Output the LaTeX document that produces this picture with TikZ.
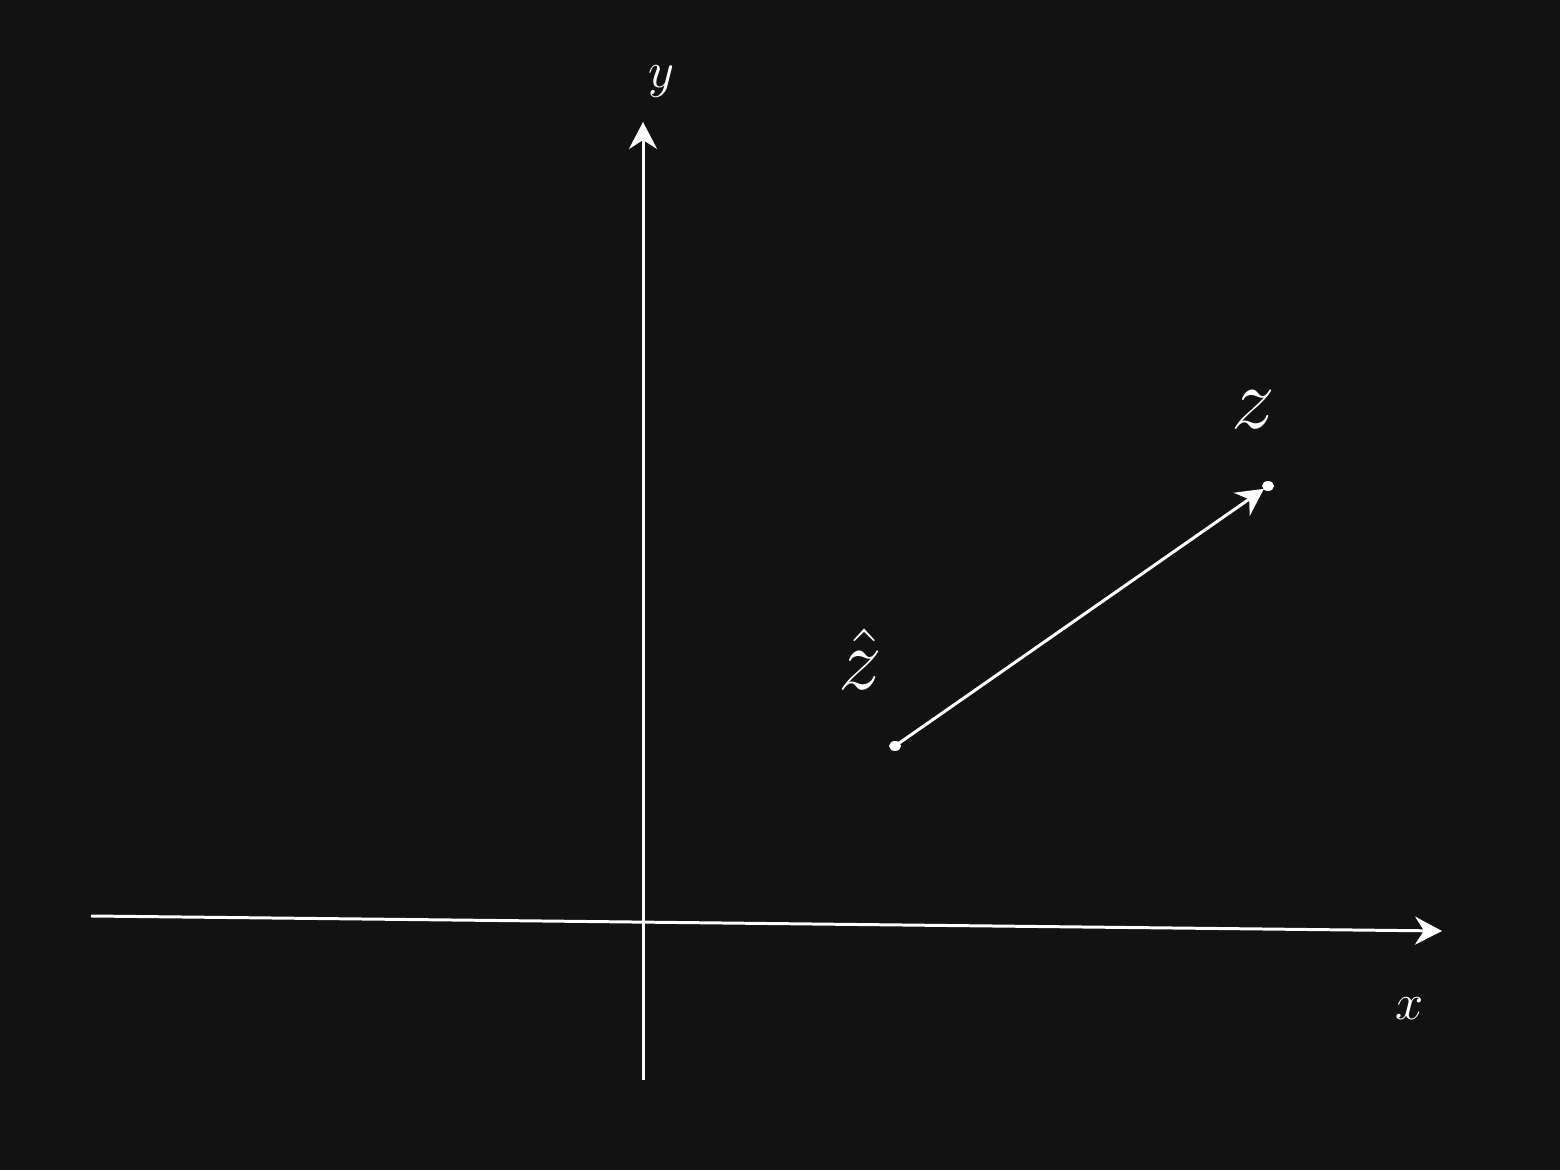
\documentclass[tikz,border=0pt]{standalone}
\usetikzlibrary{arrows.meta}
\begin{document}
\begin{tikzpicture}

    % colours
    \definecolor{bg}{RGB}{18, 18, 18}
    \definecolor{ink}{RGB}{255, 255, 255}

    % background
    \fill[bg] (0.0, 0.0) rectangle (15.6, 11.7);

    % axes end points
    \coordinate (xl) at (0.91, 2.54);
    \coordinate (xr) at (14.42, 2.39);
    \coordinate (yb) at (6.43, 0.90);
    \coordinate (yt) at (6.43, 10.48);

    % axes
    \draw[ink, line width=0.85pt, -{Stealth[length=2.7mm, width=2.8mm, inset=0.9mm]}] (xl) -- (xr);
    \draw[ink, line width=0.85pt, -{Stealth[length=2.7mm, width=2.8mm, inset=0.9mm]}] (yb) -- (yt);

    % points
    \coordinate (zhat) at (8.95, 4.24);
    \coordinate (z) at (12.68, 6.84);
    \fill[ink] (zhat) ellipse (0.06 and 0.05);
    \fill[ink] (z) ellipse (0.06 and 0.05);
    \draw[ink, line width=0.85pt, shorten >=0.05cm, -{Stealth[length=2.7mm, width=2.8mm, inset=0.9mm]}] (zhat) -- (z);

    % labels
    \node[text=ink, font=\fontsize{13.5}{16}\selectfont] (ylab) at (6.61, 10.88) {$y$};
    \node[text=ink, font=\fontsize{13.5}{16}\selectfont] (xlab) at (14.10, 1.61) {$x$};
    \node[text=ink, font=\fontsize{25}{30}\selectfont] (zlab) at (12.53, 7.60) {$z$};
    \node[text=ink, font=\fontsize{25}{30}\selectfont] (zhatlab) at (8.60, 5.11) {$\hat{z}$};

\end{tikzpicture}
\end{document}
